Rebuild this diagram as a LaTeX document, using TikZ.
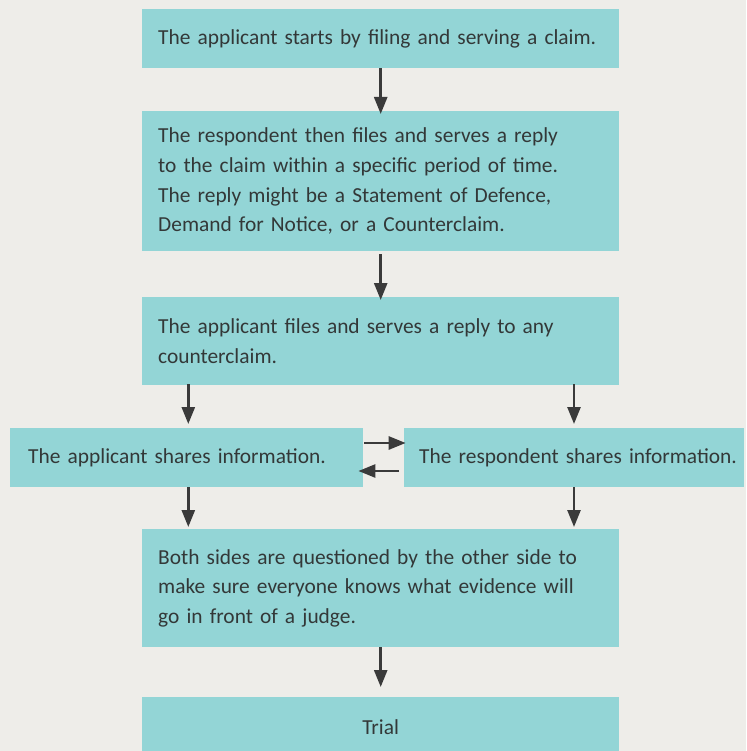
\documentclass[tikz,border=0pt]{standalone}
\usepackage{fontspec}
\setmainfont{Carlito}
\usetikzlibrary{arrows.meta,calc}
\definecolor{bgc}{HTML}{EEEDE9}
\definecolor{boxc}{HTML}{93D5D6}
\definecolor{txtc}{HTML}{333838}
\definecolor{arrc}{HTML}{3A3A3A}
\begin{document}
\begin{tikzpicture}[x=1pt,y=-1pt,
  box/.style={rectangle,fill=boxc,draw=none,inner ysep=0pt,inner xsep=16pt,
    align=left,anchor=north west,text=txtc,
    font=\fontsize{21.4}{29.7}\selectfont},
  arr/.style={draw=arrc,line width=2.6pt,-{Triangle[length=17pt,width=13pt]}}]
\clip (0,0) rectangle (746,751);
\fill[bgc] (0,0) rectangle (746,751);
\node[box,text width=445pt,minimum height=59pt] (b1) at (142,9)
  {The applicant starts by filing and serving a claim.};
\node[box,text width=445pt,minimum height=140pt] (b2) at (142,111)
  {The respondent then files and serves a reply\\to the claim within a specific period of time.\\The reply might be a Statement of Defence,\\Demand for Notice, or a Counterclaim.};
\node[box,text width=445pt,minimum height=88pt] (b3) at (142,297)
  {The applicant files and serves a reply to any\\counterclaim.};
\node[box,inner xsep=18pt,text width=316.7pt,minimum height=59pt] (lb) at (10,428)
  {\mbox{The applicant shares information.}};
\node[box,inner xsep=15pt,text width=310pt,minimum height=59pt] (rb) at (404,428)
  {\mbox{The respondent shares information.}};
\node[box,text width=445pt,minimum height=118pt] (b5) at (142,529)
  {Both sides are questioned by the other side to\\make sure everyone knows what evidence will\\go in front of a judge.};
\node[box,align=center,text width=445pt,minimum height=59pt] (b6) at (142,697)
  {Trial};
% vertical arrows
\draw[arr] (b1.south) -- ($(b2.north)+(0,3)$);
\draw[arr] ($(b2.south)+(0,3)$) -- ($(b3.north)+(0,3)$);
\draw[arr] ($(b3.south west)+(46.3,-1)$) -- ($(lb.north west)+(178.3,-4)$);
\draw[arr] ($(b3.south west)+(432,-1)$) -- ($(rb.north west)+(170,-4)$);
\draw[arr] ($(lb.south west)+(178.3,0)$) -- ($(b5.north west)+(46.3,-2)$);
\draw[arr] ($(rb.south west)+(170,0)$) -- ($(b5.north west)+(432,-2)$);
\draw[arr] (b5.south) -- ($(b6.north)+(0,-10)$);
% horizontal arrows
\draw[arr] ($(lb.north east)+(1.3,15)$) -- ($(rb.north west)+(1.7,15)$);
\draw[arr] ($(rb.north west)+(-5,43)$) -- ($(lb.north east)+(-4.7,43)$);
\end{tikzpicture}
\end{document}
